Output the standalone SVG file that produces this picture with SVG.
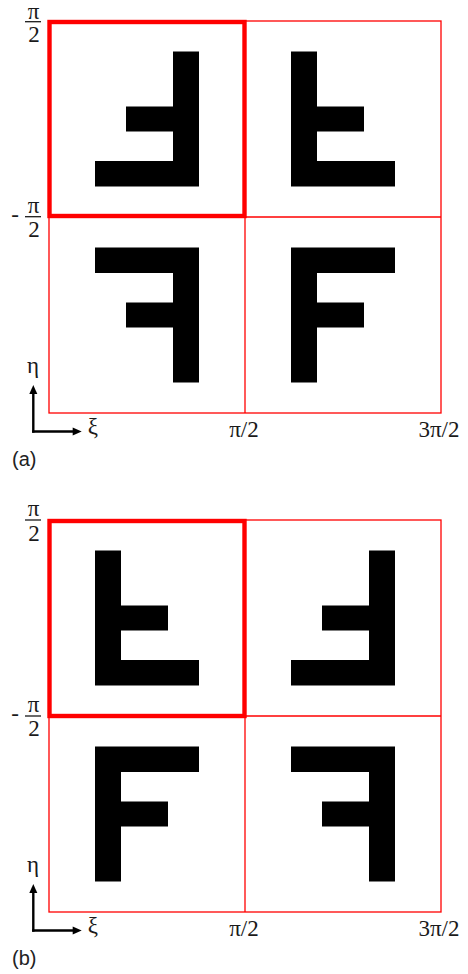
<svg xmlns="http://www.w3.org/2000/svg" width="468" height="974" viewBox="0 0 468 974">
<style>
.grid{fill:none;stroke:#ff0000;stroke-width:1.3}
.sel{fill:none;stroke:#ff0000;stroke-width:4.4}
.glyph{fill:#000}
.m{font-family:"Liberation Serif","Times New Roman",serif;font-size:23px;fill:#1a1a1a}
.lab{font-family:"Liberation Sans",Arial,sans-serif;font-size:20px;fill:#222}
.bar{stroke:#1a1a1a;stroke-width:1.3}
.ax{stroke:#000;stroke-width:2.4;fill:none}
</style>
<defs>
<path id="F" d="M-52,-67.5 H52 V-42 H-26 V-12.5 H21 V12.5 H-26 V67.5 H-52 Z"/>
</defs>
<rect width="468" height="974" fill="#fff"/>

<g id="panel-a">
  <g id="a-grid">
    <rect class="grid" x="49" y="21" width="392" height="392"/>
    <line class="grid" x1="245" y1="21" x2="245" y2="413"/>
    <line class="grid" x1="49" y1="217" x2="441" y2="217"/>
  </g>
  <g id="a-cell-tl"><use href="#F" class="glyph" transform="translate(147,119) scale(-1,-1)"/></g>
  <g id="a-cell-tr"><use href="#F" class="glyph" transform="translate(343,119) scale(1,-1)"/></g>
  <g id="a-cell-bl"><use href="#F" class="glyph" transform="translate(147,315) scale(-1,1)"/></g>
  <g id="a-cell-br"><use href="#F" class="glyph" transform="translate(343,315)"/></g>
  <g id="a-select"><rect class="sel" x="49.5" y="22" width="195" height="194"/></g>
  <g id="a-labels">
    <text class="m" x="33.5" y="18.5" text-anchor="middle">π</text>
    <line class="bar" x1="25" y1="21.7" x2="41" y2="21.7"/>
    <text class="m" x="34" y="42" text-anchor="middle">2</text>
    <text class="m" x="15" y="222" text-anchor="middle">-</text>
    <text class="m" x="33.5" y="212.5" text-anchor="middle">π</text>
    <line class="bar" x1="25" y1="216.7" x2="41" y2="216.7"/>
    <text class="m" x="34" y="237" text-anchor="middle">2</text>
    <text class="m" x="33" y="373" text-anchor="middle">η</text>
    <text class="m" x="93" y="434" text-anchor="middle">ξ</text>
    <text class="m" x="244" y="436.5" text-anchor="middle">π/2</text>
    <text class="m" x="439" y="436.5" text-anchor="middle">3π/2</text>
    <text class="lab" x="12" y="466">(a)</text>
  </g>
</g>

<g id="panel-b">
  <g id="b-grid">
    <rect class="grid" x="49" y="520" width="392" height="392"/>
    <line class="grid" x1="245" y1="520" x2="245" y2="912"/>
    <line class="grid" x1="49" y1="716" x2="441" y2="716"/>
  </g>
  <g id="b-cell-tl"><use href="#F" class="glyph" transform="translate(147,618) scale(1,-1)"/></g>
  <g id="b-cell-tr"><use href="#F" class="glyph" transform="translate(343,618) scale(-1,-1)"/></g>
  <g id="b-cell-bl"><use href="#F" class="glyph" transform="translate(147,814)"/></g>
  <g id="b-cell-br"><use href="#F" class="glyph" transform="translate(343,814) scale(-1,1)"/></g>
  <g id="b-select"><rect class="sel" x="49.5" y="521" width="195" height="195"/></g>
  <g id="b-labels">
    <text class="m" x="33.5" y="515.5" text-anchor="middle">π</text>
    <line class="bar" x1="25" y1="520" x2="41" y2="520"/>
    <text class="m" x="34" y="540.5" text-anchor="middle">2</text>
    <text class="m" x="15" y="721" text-anchor="middle">-</text>
    <text class="m" x="33.5" y="711.5" text-anchor="middle">π</text>
    <line class="bar" x1="25" y1="716" x2="41" y2="716"/>
    <text class="m" x="34" y="736" text-anchor="middle">2</text>
    <text class="m" x="33" y="872" text-anchor="middle">η</text>
    <text class="m" x="93" y="933" text-anchor="middle">ξ</text>
    <text class="m" x="244" y="935.5" text-anchor="middle">π/2</text>
    <text class="m" x="439" y="935.5" text-anchor="middle">3π/2</text>
    <text class="lab" x="12" y="965">(b)</text>
  </g>
</g>

<g id="connectors">
  <path class="ax" d="M33.3,432.7 V392"/>
  <path class="ax" d="M32.1,431.5 H74"/>
  <polygon points="33.3,385 29.3,394 37.3,394" fill="#000"/>
  <polygon points="81.7,431.5 72.7,427.5 72.7,435.5" fill="#000"/>
  <path class="ax" d="M33.3,931.7 V891"/>
  <path class="ax" d="M32.1,930.5 H74"/>
  <polygon points="33.3,884 29.3,893 37.3,893" fill="#000"/>
  <polygon points="81.7,930.5 72.7,926.5 72.7,934.5" fill="#000"/>
</g>
</svg>
